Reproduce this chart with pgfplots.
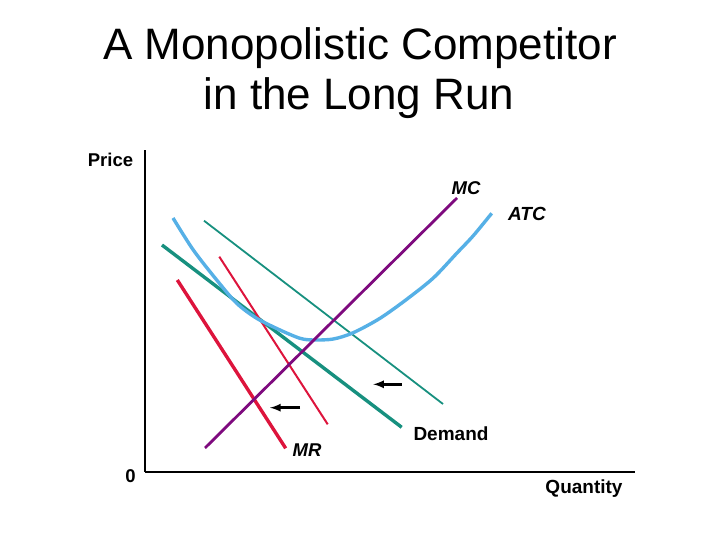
\documentclass[border=0pt]{standalone}
\usepackage{fontspec}
\setmainfont{Liberation Sans}
\usepackage{pgfplots}
\pgfplotsset{compat=1.18}
\definecolor{mcpurple}{HTML}{7E0A7E}
\definecolor{atcblue}{HTML}{56B0E6}
\definecolor{dteal}{HTML}{17907F}
\definecolor{mrred}{HTML}{DD143C}
\begin{document}
\begin{tikzpicture}
\begin{axis}[
    scale only axis,
    width=490pt, height=322pt,
    xmin=145, xmax=635,
    ymin=68, ymax=390,
    axis lines=left,
    axis line style={-, line width=2pt, black},
    ticks=none,
    clip=false
]
% bounding box of the whole 720x540 slide
\path (axis cs:0,0) (axis cs:720,540);

% old demand (thin) and new demand (thick)
\addplot[dteal, line width=1.8pt] coordinates {(204,319.3) (443,136)};
\addplot[dteal, line width=3.4pt] coordinates {(162,295) (401.7,112.7)};

% old MR (thin) and new MR (thick)
\addplot[mrred, line width=2pt] coordinates {(219.3,283.3) (327.7,115.7)};
\addplot[mrred, line width=3.4pt] coordinates {(177.3,260) (285.7,91.7)};

% ATC
\addplot[atcblue, line width=3.4pt, smooth] coordinates {
  (173,322) (193.3,290) (216.7,260) (236.7,236.7) (256.7,221.7)
  (280,210) (300,201.7) (313.3,200) (333.3,201) (353.3,207.3)
  (380,221.7) (406.7,240.7) (433.3,262) (456.7,286.7) (473.3,304.3)
  (491.7,326.7)};

% MC
\addplot[mcpurple, line width=2.8pt] coordinates {(205,92) (457,342)};

% shift arrows
\addplot[black, line width=2.6pt, -latex] coordinates {(401.7,155.7) (373.3,155.7)};
\addplot[black, line width=2.6pt, -latex] coordinates {(300,132.3) (270,132.3)};

% title
\node[anchor=base, inner sep=0, font=\fontsize{44}{50}\selectfont] at (axis cs:360,480) {A Monopolistic Competitor};
\node[anchor=base, inner sep=0, font=\fontsize{44}{50}\selectfont] at (axis cs:359,430) {in the Long Run};

% labels
\node[anchor=base, inner sep=0, font=\fontsize{18.5}{20}\selectfont\bfseries] at (axis cs:110.5,373.3) {Price};
\node[anchor=base, inner sep=0, font=\fontsize{18.5}{20}\selectfont\bfseries] at (axis cs:130.5,57.3) {0};
\node[anchor=base, inner sep=0, font=\fontsize{19}{20}\selectfont\bfseries] at (axis cs:584,46) {Quantity};
\node[anchor=base, inner sep=0, font=\fontsize{19}{20}\selectfont\bfseries] at (axis cs:451,99) {Demand};
\node[anchor=base, inner sep=0, font=\fontsize{18.5}{20}\selectfont\bfseries\itshape] at (axis cs:307,83.3) {MR};
\node[anchor=base, inner sep=0, font=\fontsize{18.5}{20}\selectfont\bfseries\itshape] at (axis cs:466,345) {MC};
\node[anchor=base, inner sep=0, font=\fontsize{19}{20}\selectfont\bfseries\itshape] at (axis cs:527,319.3) {ATC};
\end{axis}
\end{tikzpicture}
\end{document}
